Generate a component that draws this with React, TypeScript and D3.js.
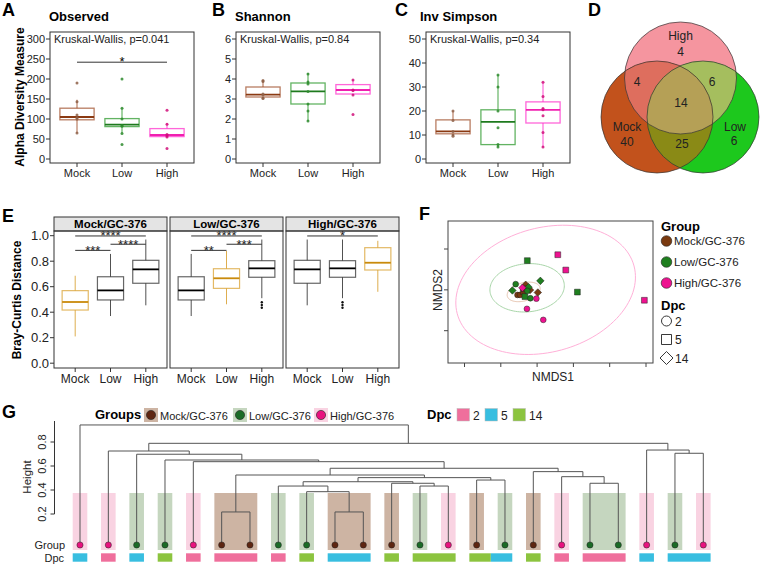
import React from "react";
import * as d3 from "d3";

const FONT = "'Liberation Sans', Arial, Helvetica, sans-serif";

// ---------------- Panels A-C (alpha diversity) ----------------
const alphaCategories = ["Mock", "Low", "High"];
const alphaTitles = ["Observed", "Shannon", "Inv Simpson"];
const alphaLetters = ["A", "B", "C"];
const kruskalLabels = ["Kruskal-Wallis, p=0.041", "Kruskal-Wallis, p=0.84", "Kruskal-Wallis, p=0.34"];
// [lower whisker, q1, median, q3, upper whisker]
const observedStats = [
  [65, 98, 105, 127, 148],
  [64, 81, 86, 101, 127],
  [55, 56, 60, 76, 90],
];
const observedPoints = [
  [190, 143, 110, 103, 100, 65],
  [200, 127, 100, 84, 82, 64, 36],
  [122, 87, 61, 58, 55, 26],
];
const shannonStats = [
  [3.02, 3.1, 3.22, 3.6, 3.95],
  [1.9, 2.75, 3.38, 3.8, 4.3],
  [3.2, 3.25, 3.45, 3.72, 3.95],
];
const shannonPoints = [
  [3.93, 3.88, 3.25, 3.2, 3.05, 3.02],
  [4.25, 3.85, 3.75, 3.38, 2.75, 2.4, 1.9],
  [3.95, 3.45, 3.42, 3.2, 2.22],
];
const invSimpsonStats = [
  [9.8, 10.5, 11.5, 16.3, 20],
  [5, 6, 15.5, 20.5, 35],
  [5, 15, 20.5, 23.8, 32],
];
const invSimpsonPoints = [
  [20, 16, 11.5, 10, 9.5],
  [35, 30, 20, 13, 6, 5],
  [32, 26, 21, 20.5, 18, 11, 5],
];
const observedTicks = [0, 50, 100, 150, 200, 250, 300];
const shannonTicks = [0, 1, 2, 3, 4, 5, 6];
const invSimpsonTicks = [0, 10, 20, 30, 40, 50];
const observedSig = { from: "Mock", to: "High", y: 242, label: "*" };

const alphaBox = { Mock: "#A0522D", Low: "#2E9A2E", High: "#FF33CC" };
const alphaMed = { Mock: "#8B3A12", Low: "#1E7A1E", High: "#F020B0" };
const alphaPt = { Mock: "#8E6048", Low: "#2E8B2E", High: "#D0107A" };

// ---------------- Panel D (Venn) ----------------
const vennNames = ["High", "Mock", "Low"];
const vennOnly = { High: 4, Mock: 40, Low: 6 };
const vennMockHigh = 4;
const vennHighLow = 6;
const vennMockLow = 25;
const vennAll = 14;

// ---------------- Panel E (Bray-Curtis) ----------------
const facetPanels = ["Mock/GC-376", "Low/GC-376", "High/GC-376"];
const brayCategories = ["Mock", "Low", "High"];
const brayStats = [
  [[0.21, 0.417, 0.48, 0.569, 0.686], [0.37, 0.496, 0.571, 0.678, 0.857], [0.454, 0.627, 0.736, 0.807, 0.97]],
  [[0.37, 0.496, 0.571, 0.678, 0.857], [0.462, 0.587, 0.666, 0.741, 0.88], [0.51, 0.674, 0.744, 0.804, 0.97]],
  [[0.454, 0.627, 0.736, 0.807, 0.97], [0.51, 0.674, 0.744, 0.804, 0.97], [0.56, 0.731, 0.788, 0.906, 0.96]],
];
const brayOutliers = [
  [[], [], []],
  [[], [], [0.478, 0.456, 0.435]],
  [[], [0.478, 0.456, 0.435], []],
];
const braySig = [
  [["Mock", "Low", "***", 0.885], ["Low", "High", "****", 0.933], ["Mock", "High", "****", 0.998]],
  [["Mock", "Low", "**", 0.885], ["Low", "High", "***", 0.933], ["Mock", "High", "****", 0.998]],
  [["Mock", "High", "*", 0.998]],
];
const brayTicks = [0, 0.2, 0.4, 0.6, 0.8, 1.0];

// ---------------- Panel F (NMDS) ----------------
const nmdsGroup = [
  "Mock", "Mock", "Mock", "Mock", "Mock", "Mock", "Mock",
  "Low", "Low", "Low", "Low", "Low", "Low", "Low", "Low", "Low",
  "High", "High", "High", "High", "High", "High", "High",
];
const nmdsDpc = [14, 14, 14, 2, 2, 5, 5, 5, 5, 5, 14, 14, 14, 2, 2, 2, 5, 5, 5, 2, 2, 2, 14];
const nmds1 = [
  -0.196, -0.263, -0.239, -0.308, -0.294, -0.276, -0.272,
  -0.254, 0.022, -0.267, -0.182, -0.336, -0.247, -0.318, -0.237, -0.254,
  -0.086, -0.042, 0.391, -0.256, -0.166, -0.204, -0.281,
];
const nmds2 = [
  -0.013, 0.025, -0.001, -0.025, -0.025, -0.008, 0.005,
  0.143, -0.011, -0.033, 0.044, -0.003, 0.013, 0.028, -0.041, -0.005,
  0.172, 0.097, -0.051, -0.093, -0.147, -0.043, 0.01,
];
const nmdsXTicks = [-0.6, -0.4, -0.2, 0, 0.2, 0.4];
const nmdsYTicks = [-0.2, 0, 0.2];
// ellipse: center + two semi-axis vectors in NMDS units
const ellipseGroups = ["High", "Low", "Mock"];
const ellipseCenter = [[-0.153, 0.0], [-0.255, 0.01], [-0.274, -0.01]];
const ellipseU = [[0.487, 0.117], [0.205, 0.01], [0.09, 0.0216]];
const ellipseV = [[0.088, -0.294], [0.0, 0.118], [0.0127, -0.0428]];
const groupLabels = ["Mock/GC-376", "Low/GC-376", "High/GC-376"];
const dpcLevels = [2, 5, 14];

const ptColor = { Mock: "#7A3A10", Low: "#1F7F1F", High: "#EE1290" };
const ellColor = { Mock: "#E6C2AC", Low: "#A9D6A9", High: "#FFB0D8" };

// ---------------- Panel G (dendrogram) ----------------
const leafGroups = ["High", "High", "Low", "Low", "High", "Mock", "Mock", "Low", "Low", "Mock", "Mock", "Mock",
  "Low", "High", "Mock", "Low", "Mock", "High", "Low", "Low", "High", "Low", "High"];
const leafDpc = [5, 2, 5, 14, 2, 2, 2, 2, 14, 5, 5, 14, 14, 14, 14, 5, 14, 2, 2, 2, 5, 5, 5];
// hclust-style merges: negative = leaf (-(i+1)), positive = earlier merge row (1-based)
const dendroMerges: [number, number, number][] = [
  [-10, -11, 0.217],
  [-6, -7, 0.217],
  [-9, 1, 0.386],
  [-8, 3, 0.433],
  [-13, -14, 0.433],
  [-12, 5, 0.456],
  [-19, -20, 0.456],
  [4, 6, 0.469],
  [-15, -16, 0.483],
  [8, 9, 0.503],
  [-18, 7, 0.511],
  [2, 10, 0.525],
  [-17, 11, 0.553],
  [12, 13, 0.581],
  [-5, 14, 0.636],
  [-4, 15, 0.65],
  [-3, 16, 0.698],
  [-22, -23, 0.706],
  [-2, 17, 0.725],
  [-21, 18, 0.733],
  [19, 20, 0.789],
  [-1, 21, 0.942],
];
const heightTicks = [0.2, 0.4, 0.6, 0.8];
const dotColor = { Mock: "#5E2612", Low: "#1B6B27", High: "#E8137F" };
const shadeColor = { Mock: "#CDB4A3", Low: "#C5D6BF", High: "#F9D3E2" };
const dpcColor = { 2: "#EF6F9C", 5: "#38BEE0", 14: "#8CC43F" };

// =====================================================================

function Letter({ x, y, t }: any) {
  return <text x={x} y={y} fontSize={18} fontWeight="bold">{t}</text>;
}

function AlphaPanel({ idx }: any) {
  const lefts = [50, 236, 426];
  const statsAll = [observedStats, shannonStats, invSimpsonStats][idx];
  const ptsAll = [observedPoints, shannonPoints, invSimpsonPoints][idx];
  const ticks = [observedTicks, shannonTicks, invSimpsonTicks][idx];
  const left = lefts[idx];
  const right = left + 144;
  const top = 32;
  const bottom = 163;
  const x = d3.scalePoint().domain(alphaCategories).range([left, right]).padding(0.6);
  const y = d3.scaleLinear().domain([0, ticks[ticks.length - 1]]).range([159, 39]);
  const bw = x.step() * 0.76;
  return (
    <g>
      <rect x={left} y={top} width={right - left} height={bottom - top} fill="none" stroke="#333" strokeWidth={1} />
      {ticks.map((t) => (
        <g key={t}>
          <line x1={left - 4} x2={left} y1={y(t)} y2={y(t)} stroke="#333" />
          <text x={left - 5} y={y(t) + 4} fontSize={11} textAnchor="end" fill="#222">{t}</text>
        </g>
      ))}
      {alphaCategories.map((c, i) => {
        const cx = x(c)!;
        const s = statsAll[i];
        return (
          <g key={c}>
            <line x1={cx} x2={cx} y1={bottom} y2={bottom + 4} stroke="#333" />
            <text x={cx} y={177} fontSize={11} textAnchor="middle" fill="#222">{c}</text>
            <line x1={cx} x2={cx} y1={y(s[0])} y2={y(s[1])} stroke={alphaBox[c]} strokeWidth={1.1} opacity={0.8} />
            <line x1={cx} x2={cx} y1={y(s[3])} y2={y(s[4])} stroke={alphaBox[c]} strokeWidth={1.1} opacity={0.8} />
            <rect x={cx - bw / 2} y={y(s[3])} width={bw} height={y(s[1]) - y(s[3])} fill="none"
              stroke={alphaBox[c]} strokeWidth={1.3} opacity={0.75} />
            <line x1={cx - bw / 2} x2={cx + bw / 2} y1={y(s[2])} y2={y(s[2])} stroke={alphaMed[c]} strokeWidth={1.8} />
            {ptsAll[i].map((v: number, k: number) => (
              <circle key={k} cx={cx} cy={y(v)} r={1.5} fill={alphaPt[c]} opacity={0.85} />
            ))}
          </g>
        );
      })}
      <text x={left + 4} y={43} fontSize={11} fill="#222">{kruskalLabels[idx]}</text>
      {idx === 0 && (
        <g>
          <line x1={x(observedSig.from)} x2={x(observedSig.to)} y1={y(observedSig.y)} y2={y(observedSig.y)} stroke="#333" />
          <text x={(x(observedSig.from)! + x(observedSig.to)!) / 2} y={y(observedSig.y) + 4} fontSize={13} textAnchor="middle">{observedSig.label}</text>
        </g>
      )}
      <text x={[49, 235, 420][idx]} y={21} fontSize={13} fontWeight="bold">{alphaTitles[idx]}</text>
      <Letter x={[2, 212, 395][idx]} y={16} t={alphaLetters[idx]} />
    </g>
  );
}

function Venn() {
  const c0 = { x: 680, y: 104 };
  const r = 56;
  const off = { High: [0.5, -26], Mock: [-23, 13], Low: [23, 13] };
  const C = (n: string) => ({ x: c0.x + off[n][0], y: c0.y + off[n][1] });
  const only = { High: "#F5959F", Mock: "#C2521C", Low: "#1DC81D" };
  const txt = (x: number, y: number, t: any, k: string) => (
    <text key={k} x={x} y={y} fontSize={12} textAnchor="middle" fill="#222">{t}</text>
  );
  return (
    <g>
      <defs>
        {vennNames.map((n) => (
          <clipPath id={"clip" + n} key={n}>
            <circle cx={C(n).x} cy={C(n).y} r={r} />
          </clipPath>
        ))}
      </defs>
      {vennNames.map((n) => <circle key={n} cx={C(n).x} cy={C(n).y} r={r} fill={only[n]} />)}
      <g clipPath="url(#clipMock)"><circle cx={C("High").x} cy={C("High").y} r={r} fill="#DE6E5E" /></g>
      <g clipPath="url(#clipLow)"><circle cx={C("High").x} cy={C("High").y} r={r} fill="#A5BE5E" /></g>
      <g clipPath="url(#clipMock)"><circle cx={C("Low").x} cy={C("Low").y} r={r} fill="#8A8A16" /></g>
      <g clipPath="url(#clipMock)"><g clipPath="url(#clipLow)"><circle cx={C("High").x} cy={C("High").y} r={r} fill="#B5A056" /></g></g>
      {vennNames.map((n) => <circle key={"o" + n} cx={C(n).x} cy={C(n).y} r={r} fill="none" stroke="#333" strokeWidth={0.7} />)}
      {txt(C("High").x, C("High").y - 38, "High", "h1")}
      {txt(C("High").x, C("High").y - 22, vennOnly.High, "h2")}
      {txt(C("Mock").x - 30, C("Mock").y + 14, "Mock", "m1")}
      {txt(C("Mock").x - 30, C("Mock").y + 29, vennOnly.Mock, "m2")}
      {txt(C("Low").x + 32, C("Low").y + 14, "Low", "l1")}
      {txt(C("Low").x + 31, C("Low").y + 28, vennOnly.Low, "l2")}
      {txt(c0.x - 43, c0.y - 18, vennMockHigh, "mh")}
      {txt(c0.x + 32, c0.y - 18, vennHighLow, "hl")}
      {txt(c0.x + 1, c0.y + 3, vennAll, "all")}
      {txt(c0.x + 2, c0.y + 44, vennMockLow, "ml")}
      <Letter x={588} y={16} t="D" />
    </g>
  );
}

function Bray() {
  const lefts = [54, 170, 286];
  const pw = 113;
  const stripTop = 217, stripBot = 231, bottom = 368;
  const y = d3.scaleLinear().domain([0, 1]).range([363.2, 235.7]);
  const orange = "#D9A132", orangeMed = "#C98A0B";
  return (
    <g>
      {brayTicks.map((t) => (
        <g key={t}>
          <line x1={50} x2={54} y1={y(t)} y2={y(t)} stroke="#333" />
          <text x={49} y={y(t) + 4.5} fontSize={13} textAnchor="end" fill="#222">{t.toFixed(1)}</text>
        </g>
      ))}
      <text transform={`translate(21,300) rotate(-90)`} fontSize={12} fontWeight="bold" textAnchor="middle">Bray-Curtis Distance</text>
      {facetPanels.map((p, pi) => {
        const left = lefts[pi];
        const x = d3.scalePoint().domain(brayCategories).range([left, left + pw]).padding(0.6);
        const bw = x.step() * 0.74;
        return (
          <g key={p}>
            <rect x={left} y={stripTop} width={pw} height={stripBot - stripTop} fill="#E4E4E4" stroke="#333" />
            <text x={left + pw / 2} y={228} fontSize={11.5} fontWeight="bold" textAnchor="middle">{p}</text>
            <rect x={left} y={stripBot} width={pw} height={bottom - stripBot} fill="none" stroke="#333" />
            {brayCategories.map((c, ci) => {
              const s = brayStats[pi][ci];
              const cx = x(c)!;
              const hl = ci === pi;
              const col = hl ? orange : "#333";
              const med = hl ? orangeMed : "#000";
              return (
                <g key={c}>
                  <line x1={cx} x2={cx} y1={bottom} y2={bottom + 4} stroke="#333" />
                  <text x={cx} y={383} fontSize={12} textAnchor="middle" fill="#222">{c}</text>
                  <line x1={cx} x2={cx} y1={y(s[0])} y2={y(s[1])} stroke={col} strokeWidth={1} opacity={0.85} />
                  <line x1={cx} x2={cx} y1={y(s[3])} y2={y(s[4])} stroke={col} strokeWidth={1} opacity={0.85} />
                  <rect x={cx - bw / 2} y={y(s[3])} width={bw} height={y(s[1]) - y(s[3])} fill="none"
                    stroke={col} strokeWidth={1.2} opacity={0.75} />
                  <line x1={cx - bw / 2} x2={cx + bw / 2} y1={y(s[2])} y2={y(s[2])} stroke={med} strokeWidth={1.8} />
                  {brayOutliers[pi][ci].map((v, k) => (
                    <circle key={k} cx={cx} cy={y(v)} r={1.2} fill="#111" />
                  ))}
                </g>
              );
            })}
            {braySig[pi].map(([a, b, lab, v]: any, k) => (
              <g key={k}>
                <line x1={x(a)} x2={x(b)} y1={y(v)} y2={y(v)} stroke="#333" />
                <text x={(x(a)! + x(b)!) / 2} y={y(v) + 4.5} fontSize={13} textAnchor="middle" fill="#222">{lab}</text>
              </g>
            ))}
          </g>
        );
      })}
      <Letter x={2} y={222} t="E" />
    </g>
  );
}

function symbolFor(dpc: number, s: number) {
  if (dpc === 2) return d3.symbol().type(d3.symbolCircle).size(Math.PI * s * s)()!;
  if (dpc === 5) return `M${-s},${-s}H${s}V${s}H${-s}Z`;
  const q = s * 1.3;
  return `M0,${-q}L${q},0L0,${q}L${-q},0Z`;
}

function Nmds() {
  const L = 448, R = 653, T = 221, B = 363;
  const x = d3.scaleLinear().domain([-0.6, 0.4]).range([464.5, 646]);
  const y = d3.scaleLinear().domain([-0.2, 0.2]).range([330.7, 249]);
  const ts = d3.range(0, 2 * Math.PI + 0.01, Math.PI / 60);
  const line = d3.line<number[]>().x((d) => x(d[0])).y((d) => y(d[1]));
  const order = ["Mock", "Low", "High"];
  const idxs = d3.range(nmdsGroup.length).sort((a, b) => order.indexOf(nmdsGroup[a]) - order.indexOf(nmdsGroup[b]));
  return (
    <g>
      <defs>
        <clipPath id="nmdsClip"><rect x={L} y={T} width={R - L} height={B - T} /></clipPath>
      </defs>
      <g clipPath="url(#nmdsClip)">
        {ellipseGroups.map((g, i) => {
          const pts = ts.map((t) => [
            ellipseCenter[i][0] + ellipseU[i][0] * Math.cos(t) + ellipseV[i][0] * Math.sin(t),
            ellipseCenter[i][1] + ellipseU[i][1] * Math.cos(t) + ellipseV[i][1] * Math.sin(t),
          ]);
          return <path key={g} d={line(pts)!} fill="none" stroke={ellColor[g]} strokeWidth={1} />;
        })}
        {idxs.map((i) => (
          <path key={i} d={symbolFor(nmdsDpc[i], 2.9)}
            transform={`translate(${x(nmds1[i])},${y(nmds2[i])})`} fill={ptColor[nmdsGroup[i]]} stroke="#222" strokeWidth={0.5} />
        ))}
      </g>
      <rect x={L} y={T} width={R - L} height={B - T} fill="none" stroke="#444" />
      {nmdsXTicks.map((t) => <line key={t} x1={x(t)} x2={x(t)} y1={B} y2={B + 4} stroke="#444" />)}
      {nmdsYTicks.map((t) => <line key={t} x1={L - 4} x2={L} y1={y(t)} y2={y(t)} stroke="#444" />)}
      <text x={553} y={381} fontSize={12} textAnchor="middle" fill="#222">NMDS1</text>
      <text transform="translate(442,290) rotate(-90)" fontSize={12} textAnchor="middle" fill="#222">NMDS2</text>
      <text x={661} y={231} fontSize={13} fontWeight="bold">Group</text>
      {order.map((g, i) => (
        <g key={g}>
          <circle cx={666.5} cy={241 + i * 21} r={5.3} fill={ptColor[g]} stroke="#222" strokeWidth={0.6} />
          <text x={674} y={245.3 + i * 21} fontSize={11.5} fill="#222">{groupLabels[i]}</text>
        </g>
      ))}
      <text x={661} y={310} fontSize={13} fontWeight="bold">Dpc</text>
      {dpcLevels.map((d, i) => (
        <g key={d}>
          <path d={symbolFor(d, 5)} transform={`translate(666.5,${321 + i * 18.5})`} fill="none" stroke="#222" strokeWidth={0.9} />
          <text x={675} y={325.5 + i * 18.5} fontSize={12} fill="#222">{d}</text>
        </g>
      ))}
      <Letter x={419} y={220} t="F" />
    </g>
  );
}

function Dendro() {
  const n = leafGroups.length;
  const xL = d3.scaleLinear().domain([0, n - 1]).range([80, 703.3]);
  const yH = d3.scaleLinear().domain([0.2, 0.8]).range([514, 442]);
  const leafY = 545;
  const half = 7.3;
  const nodes: any[] = [];
  const pos = (ref: number) => (ref < 0 ? { x: xL(-ref - 1), y: leafY } : nodes[ref - 1]);
  dendroMerges.forEach(([a, b, h]) => {
    const pa = pos(a), pb = pos(b);
    nodes.push({ x: (pa.x + pb.x) / 2, y: yH(h), pa, pb });
  });
  const cherries = dendroMerges.filter(([a, b]) => a < 0 && b < 0).map(([a, b]) => [-a - 1, -b - 1].sort((p, q) => p - q));
  const cherryOf = (i: number) => cherries.find((c) => c.includes(i));
  const shades: any[] = [];
  const bars: any[] = [];
  const doneG = new Set<number>();
  const doneD = new Set<number>();
  for (let i = 0; i < n; i++) {
    const ch = cherryOf(i);
    if (!doneG.has(i)) {
      if (ch && leafGroups[ch[0]] === leafGroups[ch[1]]) {
        shades.push({ x0: xL(ch[0]) - half, x1: xL(ch[1]) + half, g: leafGroups[i] });
        doneG.add(ch[0]); doneG.add(ch[1]);
      } else {
        shades.push({ x0: xL(i) - half, x1: xL(i) + half, g: leafGroups[i] });
        doneG.add(i);
      }
    }
    if (!doneD.has(i)) {
      if (ch) {
        const [a, b] = ch;
        if (leafDpc[a] === leafDpc[b]) {
          bars.push({ x0: xL(a) - half, x1: xL(b) + half, d: leafDpc[a] });
        } else {
          const mid = (xL(a) + xL(b)) / 2;
          bars.push({ x0: xL(a) - half, x1: mid, d: leafDpc[a] });
          bars.push({ x0: mid, x1: xL(b) + half, d: leafDpc[b] });
        }
        doneD.add(a); doneD.add(b);
      } else {
        bars.push({ x0: xL(i) - half, x1: xL(i) + half, d: leafDpc[i] });
        doneD.add(i);
      }
    }
  }
  const legendGroupX = [144, 233, 314];
  const legendDpcX = [457, 485, 513];
  return (
    <g>
      {shades.map((s, k) => (
        <rect key={k} x={s.x0} y={493} width={s.x1 - s.x0} height={57} fill={shadeColor[s.g]} />
      ))}
      {bars.map((b, k) => (
        <rect key={k} x={b.x0} y={553.3} width={b.x1 - b.x0} height={8.4} fill={dpcColor[b.d]} />
      ))}
      {nodes.map((nd, k) => (
        <path key={k} d={`M${nd.pa.x},${nd.pa.y}V${nd.y}H${nd.pb.x}V${nd.pb.y}`} fill="none" stroke="#555" strokeWidth={1} />
      ))}
      {leafGroups.map((g, i) => (
        <circle key={i} cx={xL(i)} cy={leafY} r={3.1} fill={dotColor[g]} stroke="#222" strokeWidth={0.5} />
      ))}
      <line x1={54.5} x2={54.5} y1={yH(0.975)} y2={yH(0.2)} stroke="#333" />
      {heightTicks.map((t) => (
        <g key={t}>
          <line x1={50.5} x2={54.5} y1={yH(t)} y2={yH(t)} stroke="#333" />
          <text transform={`translate(46,${yH(t)}) rotate(-90)`} fontSize={11} textAnchor="middle" fill="#222">{t.toFixed(1)}</text>
        </g>
      ))}
      <text transform="translate(31,477) rotate(-90)" fontSize={11.5} textAnchor="middle" fill="#222">Height</text>
      <text x={65} y={548.5} fontSize={11} textAnchor="end" fill="#222">Group</text>
      <text x={64} y={561.5} fontSize={11} textAnchor="end" fill="#222">Dpc</text>
      <text x={95} y={419} fontSize={13} fontWeight="bold">Groups</text>
      {alphaCategories.map((g, i) => (
        <g key={g}>
          <rect x={legendGroupX[i]} y={408} width={14} height={14} fill={shadeColor[g]} />
          <circle cx={legendGroupX[i] + 7} cy={415} r={4.6} fill={dotColor[g]} stroke="#222" strokeWidth={0.6} />
          <text x={legendGroupX[i] + 16} y={419.5} fontSize={11} fill="#222">{groupLabels[i]}</text>
        </g>
      ))}
      <text x={427} y={419} fontSize={13} fontWeight="bold">Dpc</text>
      {dpcLevels.map((d, i) => (
        <g key={d}>
          <rect x={legendDpcX[i]} y={408.5} width={12.5} height={12.5} fill={dpcColor[d]} stroke="#bbb" strokeWidth={0.5} />
          <text x={legendDpcX[i] + 16} y={419.5} fontSize={12} fill="#222">{d}</text>
        </g>
      ))}
      <Letter x={2} y={418} t="G" />
    </g>
  );
}

export default function App() {
  return (
    <svg width={760} height={565} style={{ position: "absolute", left: 0, top: 0, background: "#fff" }} fontFamily={FONT}>
      <rect width={760} height={565} fill="#fff" />
      <text transform="translate(24,97) rotate(-90)" fontSize={12} fontWeight="bold" textAnchor="middle">Alpha Diversity Measure</text>
      <AlphaPanel idx={0} />
      <AlphaPanel idx={1} />
      <AlphaPanel idx={2} />
      <Venn />
      <Bray />
      <Nmds />
      <Dendro />
    </svg>
  );
}
